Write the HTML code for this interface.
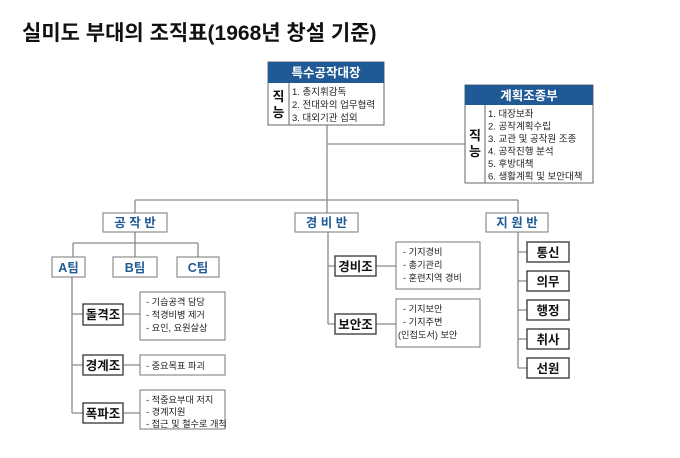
<!DOCTYPE html>
<html><head><meta charset="utf-8"><style>
body{margin:0;background:#fff}
svg text{font-family:"Liberation Sans","Noto Sans CJK KR",sans-serif}
</style></head><body>
<svg width="680" height="453" viewBox="0 0 680 453" xmlns="http://www.w3.org/2000/svg">
<text x="22" y="40" font-size="21" font-weight="bold" fill="#111">실미도 부대의 조직표(1968년 창설 기준)</text>
<g stroke="#8a8a8a" stroke-width="1.3" fill="none">
<path d="M327 125V200M327 144H465M135 200H518M135 200V213M327 200V213M518 200V213"/>
<path d="M135 232V243M73 243H198M73 243V257M135 243V257M198 243V257"/>
<path d="M72 277V413M72 314H83M72 365H83M72 413H83M123 314H140M123 365H140M123 413H140"/>
<path d="M328 232V324M328 266H335M328 324H335M376 266H396M376 324H396"/>
<path d="M518 232V368M518 252H527M518 281H527M518 310H527M518 339H527M518 368H527"/>
</g>
<g stroke="#666" stroke-width="1" fill="#fff">
<rect x="268" y="62" width="116" height="63"/>
<rect x="465" y="85" width="128" height="98"/>
</g>
<rect x="268" y="62" width="116" height="21" fill="#1f5a96"/>
<rect x="465" y="85" width="128" height="20" fill="#1f5a96"/>
<g stroke="#666" stroke-width="1"><path d="M289 83V125M485 105V183"/></g>
<g fill="#fff" font-weight="bold" font-size="12.5" text-anchor="middle">
<text x="326" y="77">특수공작대장</text><text x="529" y="100">계획조종부</text></g>
<g font-weight="bold" font-size="13" text-anchor="middle" fill="#111">
<text x="278.5" y="101">직</text><text x="278.5" y="117">능</text>
<text x="475" y="140">직</text><text x="475" y="156">능</text></g>
<g font-size="9.5" fill="#222">
<text x="292" y="95">1. 총지휘감독</text><text x="292" y="108">2. 전대와의 업무협력</text><text x="292" y="121">3. 대외기관 섭외</text>
<text x="488" y="117">1. 대장보좌</text><text x="488" y="129.5">2. 공작계획수립</text><text x="488" y="142">3. 교관 및 공작원 조종</text><text x="488" y="154.5">4. 공작진행 분석</text><text x="488" y="167">5. 후방대책</text><text x="488" y="179.5">6. 생활계획 및 보안대책</text>
</g>
<g stroke="#777" stroke-width="1" fill="#fff">
<rect x="103" y="213" width="64" height="19"/><rect x="295" y="213" width="63" height="19"/><rect x="486" y="213" width="62" height="19"/>
<rect x="52" y="257" width="33" height="20"/><rect x="113" y="257" width="44" height="20"/><rect x="177" y="257" width="42" height="20"/>
<rect x="140" y="292" width="85" height="48"/><rect x="140" y="355" width="85" height="20"/><rect x="140" y="390" width="85" height="39"/>
<rect x="396" y="242" width="84" height="47"/><rect x="396" y="299" width="84" height="48"/>
</g>
<g stroke="#333" stroke-width="1.3" fill="#fff">
<rect x="83" y="304" width="40" height="21"/><rect x="83" y="355" width="40" height="20"/><rect x="83" y="403" width="40" height="20"/>
<rect x="335" y="256" width="41" height="20"/><rect x="335" y="314" width="41" height="20"/>
<rect x="527" y="242" width="42" height="20"/><rect x="527" y="271" width="42" height="20"/><rect x="527" y="300" width="42" height="20"/><rect x="527" y="329" width="42" height="20"/><rect x="527" y="358" width="42" height="20"/>
</g>
<g fill="#1f5a96" font-weight="bold" font-size="12.5" text-anchor="middle">
<text x="135" y="227">공 작 반</text><text x="326.5" y="227">경 비 반</text><text x="517" y="227">지 원 반</text>
<text x="68.5" y="272">A팀</text><text x="135" y="272">B팀</text><text x="198" y="272">C팀</text></g>
<g fill="#111" font-weight="bold" font-size="12.5" text-anchor="middle">
<text x="103" y="319">돌격조</text><text x="103" y="370">경계조</text><text x="103" y="418">폭파조</text>
<text x="355.5" y="271">경비조</text><text x="355.5" y="329">보안조</text>
<text x="548" y="257">통신</text><text x="548" y="286">의무</text><text x="548" y="315">행정</text><text x="548" y="344">취사</text><text x="548" y="373">선원</text></g>
<g font-size="9.2" fill="#222">
<text x="146" y="305">- 기습공격 담당</text><text x="146" y="318">- 적경비병 제거</text><text x="146" y="331">- 요인, 요원살상</text>
<text x="146" y="369">- 중요목표 파괴</text>
<text x="146" y="403">- 적중요부대 저지</text><text x="146" y="415">- 경계지원</text><text x="146" y="427">- 접근 및 철수로 개척</text>
<text x="403" y="255">- 기지경비</text><text x="403" y="268">- 총기관리</text><text x="403" y="281">- 훈련지역 경비</text>
<text x="403" y="312">- 기지보안</text><text x="403" y="325">- 기지주변</text><text x="398" y="338">(인접도서) 보안</text>
</g>
</svg>
</body></html>
